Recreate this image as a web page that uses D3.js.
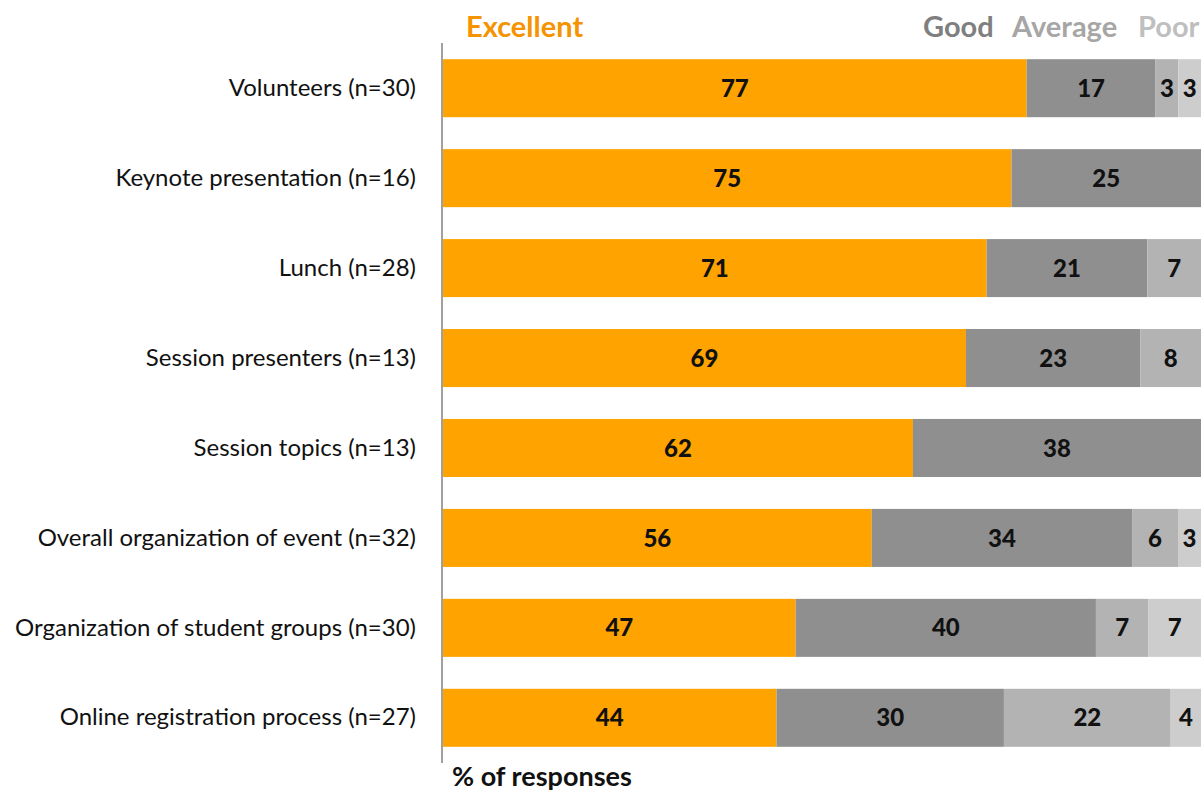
<!DOCTYPE html>
<meta charset="utf-8">
<head>
  <script src="https://d3js.org/d3.v7.min.js"></script>
  <style>
    body { margin: 0; background: #fff; font-family: "Lato", "Open Sans", sans-serif; }
  </style>
</head>
<body>
<svg></svg>
<script>
  // data
  var categories = ["Volunteers (n=30)", "Keynote presentation (n=16)", "Lunch (n=28)",
    "Session presenters (n=13)", "Session topics (n=13)", "Overall organization of event (n=32)",
    "Organization of student groups (n=30)", "Online registration process (n=27)"];
  var ratings = ["Excellent", "Good", "Average", "Poor"];
  var excellent = [77, 75, 71, 69, 62, 56, 47, 44];
  var good      = [17, 25, 21, 23, 38, 34, 40, 30];
  var average   = [3, 0, 7, 8, 0, 6, 7, 22];
  var poor      = [3, 0, 0, 0, 0, 3, 7, 4];

  var width = 1202, height = 795;
  var fills = ["#FFA300", "#8F8F8F", "#B3B3B3", "#CDCDCD"];
  var legendColors = ["#F59300", "#7F7F7F", "#A6A6A6", "#BFBFBF"];

  var svg = d3.select("svg").attr("width", width).attr("height", height);

  var rows = categories.map(function (c, i) {
    return { name: c, Excellent: excellent[i], Good: good[i], Average: average[i], Poor: poor[i] };
  });
  // rounded percentages don't always add to 100, so stretch each row to full width
  var stacked = d3.stack().keys(ratings).offset(d3.stackOffsetExpand)(rows);

  var x = d3.scaleLinear().domain([0, 1]).range([443, 1201]);
  var y = d3.scaleBand().domain(categories).range([43, 763]).paddingInner(0.355).paddingOuter(0.18);

  var layer = svg.selectAll("g.layer")
    .data(stacked)
    .enter().append("g")
    .attr("class", "layer")
    .attr("fill", function (d, i) { return fills[i]; });

  layer.selectAll("rect")
    .data(function (d) { return d.filter(function (s) { return s[1] > s[0]; }); })
    .enter().append("rect")
    .attr("x", function (d) { return x(d[0]); })
    .attr("width", function (d) { return x(d[1]) - x(d[0]); })
    .attr("y", function (d) { return y(d.data.name); })
    .attr("height", y.bandwidth());

  // value labels
  layer.selectAll("text")
    .data(function (d) {
      var key = d.key;
      return d.filter(function (s) { return s[1] > s[0]; })
        .map(function (s) { s.value = s.data[key]; return s; });
    })
    .enter().append("text")
    .attr("x", function (d) { return (x(d[0]) + x(d[1])) / 2; })
    .attr("y", function (d) { return y(d.data.name) + y.bandwidth() / 2; })
    .attr("dy", "0.36em")
    .attr("text-anchor", "middle")
    .attr("fill", "#111")
    .style("font-size", "24px")
    .style("font-weight", "900")
    .text(function (d) { return d.value; });

  // axis
  var yAxis = svg.append("g")
    .attr("transform", "translate(442,0)")
    .call(d3.axisLeft(y).tickSize(0).tickPadding(26));
  yAxis.select(".domain").attr("stroke", "#A0A0A0").attr("stroke-width", 2)
    .attr("d", "M0,43V763");
  yAxis.selectAll("text")
    .style("font-family", "Lato, sans-serif")
    .style("font-size", "24px")
    .attr("fill", "#111");

  // legend
  var legendX = [466, 923, 1012, 1138];
  svg.selectAll("text.legend")
    .data(ratings)
    .enter().append("text")
    .attr("class", "legend")
    .attr("x", function (d, i) { return legendX[i]; })
    .attr("y", 37)
    .attr("fill", function (d, i) { return legendColors[i]; })
    .style("font-size", "29px")
    .style("font-weight", "bold")
    .text(function (d) { return d; });

  svg.append("text")
    .attr("x", 452)
    .attr("y", 786)
    .attr("fill", "#111")
    .style("font-size", "27px")
    .style("font-weight", "bold")
    .text("% of responses");
</script>
</body>
</html>
